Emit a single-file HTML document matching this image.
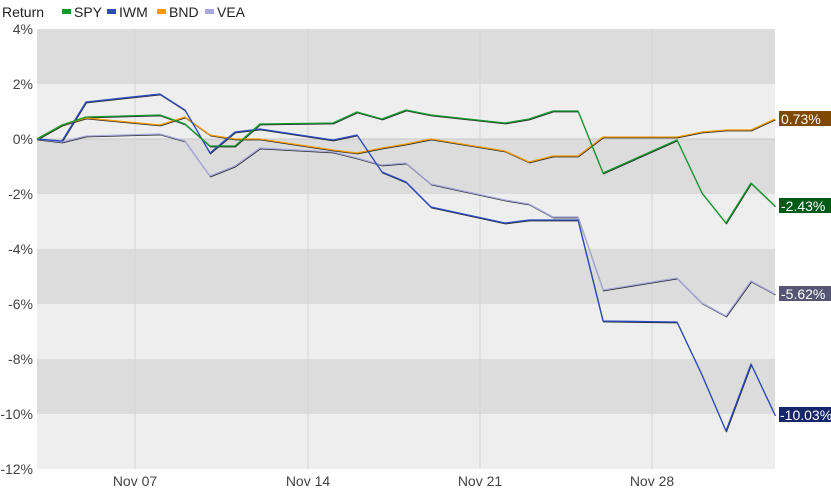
<!DOCTYPE html>
<html><head><meta charset="utf-8"><style>
html,body{margin:0;padding:0;background:#fff;}
svg{display:block;font-family:"Liberation Sans",Arial,sans-serif;}
</style></head><body>
<svg width="831" height="495" viewBox="0 0 831 495" xmlns="http://www.w3.org/2000/svg">
<g>
<rect x="37" y="29" width="738" height="55" fill="#dcdcdc"/>
<rect x="37" y="84" width="738" height="55" fill="#eeeeee"/>
<rect x="37" y="139" width="738" height="55" fill="#dcdcdc"/>
<rect x="37" y="194" width="738" height="55" fill="#eeeeee"/>
<rect x="37" y="249" width="738" height="55" fill="#dcdcdc"/>
<rect x="37" y="304" width="738" height="55" fill="#eeeeee"/>
<rect x="37" y="359" width="738" height="55" fill="#dcdcdc"/>
<rect x="37" y="414" width="738" height="55" fill="#eeeeee"/>
<line x1="37" y1="139" x2="775" y2="139" stroke="#c8c8c8" stroke-width="1"/>
<g stroke="#d4d4d4" stroke-width="1">
<line x1="135" y1="29" x2="135" y2="469"/><line x1="308" y1="29" x2="308" y2="469"/>
<line x1="480" y1="29" x2="480" y2="469"/><line x1="652" y1="29" x2="652" y2="469"/>
</g>
</g>
<g font-size="14" fill="#444" text-anchor="end">
<text x="33" y="34">4%</text><text x="33" y="89">2%</text><text x="33" y="144">0%</text>
<text x="33" y="199">-2%</text><text x="33" y="254">-4%</text><text x="33" y="309">-6%</text>
<text x="33" y="364">-8%</text><text x="33" y="419">-10%</text><text x="33" y="474">-12%</text>
</g>
<g font-size="14" fill="#444" text-anchor="middle">
<text x="135" y="486">Nov 07</text><text x="308" y="486">Nov 14</text>
<text x="480" y="486">Nov 21</text><text x="652" y="486">Nov 28</text>
</g>
<g font-size="14" fill="#222">
<text x="2" y="17">Return</text>
<rect x="62" y="9" width="9" height="5" fill="#109a2a"/><text x="74" y="17">SPY</text>
<rect x="107" y="9" width="9" height="5" fill="#2a4ac0"/><text x="119" y="17">IWM</text>
<rect x="157" y="9" width="9" height="5" fill="#f59a00"/><text x="169" y="17">BND</text>
<rect x="205" y="9" width="9" height="5" fill="#a8a8dc"/><text x="217" y="17">VEA</text>
</g>
<g fill="none" stroke-linejoin="round">
<g stroke="#000" stroke-width="1" opacity="0.8" transform="translate(0.5,0.9)">
<polyline points="37,139 62,142 86,136 160,134 185,141 210,176 235,166 260,148 333,152 357,158 382,165 406,163 431,184 505,200 529,204 553,217 578,217 603,290 677,278 702,303 726,316 751,281 775,294"/>
<polyline points="37,139 62,125 86,118 160,125 185,117 210,135 235,139 260,139 333,150 357,153 382,148 406,144 431,139 505,151 529,162 553,156 578,156 603,137 677,137 702,132 726,130 751,130 775,119"/>
<polyline points="37,139 62,141 86,102 160,94 185,110 210,153 235,132 260,129 333,140 357,135 382,172 406,182 431,207 505,223 529,220 553,220 578,220 603,321 677,322 702,375 726,431 751,364 775,415"/>
<polyline points="37,139 62,125 86,117 160,115 185,124 210,146 235,146 260,124 333,123 357,112 382,119 406,110 431,115 505,123 529,119 553,111 578,111 603,173 677,140 702,193 726,223 751,183 775,206"/>
</g>
<polyline stroke="#a8a8dc" stroke-width="1.3" points="37,139 62,142 86,136 160,134 185,141 210,176 235,166 260,148 333,152 357,158 382,165 406,163 431,184 505,200 529,204 553,217 578,217 603,290 677,278 702,303 726,316 751,281 775,294"/>
<polyline stroke="#f59a00" stroke-width="1.3" points="37,139 62,125 86,118 160,125 185,117 210,135 235,139 260,139 333,150 357,153 382,148 406,144 431,139 505,151 529,162 553,156 578,156 603,137 677,137 702,132 726,130 751,130 775,119"/>
<polyline stroke="#2a4ac0" stroke-width="1.3" points="37,139 62,141 86,102 160,94 185,110 210,153 235,132 260,129 333,140 357,135 382,172 406,182 431,207 505,223 529,220 553,220 578,220 603,321 677,322 702,375 726,431 751,364 775,415"/>
<polyline stroke="#109a2a" stroke-width="1.3" points="37,139 62,125 86,117 160,115 185,124 210,146 235,146 260,124 333,123 357,112 382,119 406,110 431,115 505,123 529,119 553,111 578,111 603,173 677,140 702,193 726,223 751,183 775,206"/>
</g>
<g font-size="14" fill="#fff">
<rect x="779" y="111" width="52" height="15" fill="#7f4a00"/><text x="781" y="124">0.73%</text>
<rect x="779" y="198" width="52" height="15" fill="#005a18"/><text x="781" y="211">-2.43%</text>
<rect x="779" y="286" width="52" height="15" fill="#565674"/><text x="781" y="299">-5.62%</text>
<rect x="779" y="407" width="52" height="15" fill="#15266a"/><text x="780" y="420">-10.03%</text>
</g>
</svg>
</body></html>
